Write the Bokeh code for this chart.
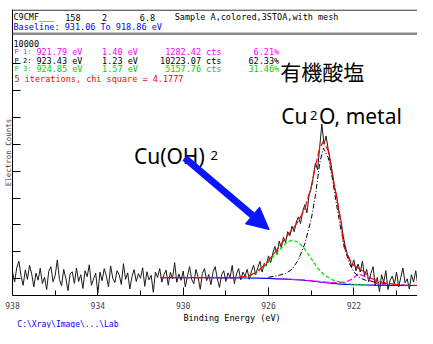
import math
from bokeh.plotting import figure
from bokeh.layouts import column
from bokeh.models import (Range1d, FixedTicker, Label, Arrow, NormalHead,
                          BoxAnnotation, Span)
from bokeh.embed import file_html
from bokeh.resources import INLINE

# ---------------- data ----------------
# measured spectrum, 0.1 eV steps from 938.0 eV down to 918.3 eV
counts = [
    1250, 880, 1420, 1650, 1100, 760, 1330, 980, 1500, 1180,
    700, 1210, 950, 1390, 820, 1060, 600, 1280, 1450, 890,
    1120, 1700, 980, 740, 1350, 1020, 560, 1180, 1260, 830,
    1400, 900, 1150, 640, 1300, 1080, 1520, 760, 1000, 1210,
    450, 1250, 930, 1380, 1100, 700, 1480, 1020, 860, 1300,
    1150, 790, 1560, 980, 1220, 620, 1080, 1340, 900, 1190,
    1020, 1410, 720, 1260, 960, 1130, 500, 1250, 1050, 1380,
    880, 1150, 1320, 760, 1240, 1000, 1600, 870, 1180, 940,
    1290, 700, 1100, 1450, 980, 820, 1350, 1050, 610, 1200,
    1380, 930, 1160, 780, 1250, 1450, 1000, 680, 1150, 1300,
    900, 1220, 1060, 1500, 820, 1180, 1380, 960, 1250, 1100,
    1350, 980, 1280, 1500, 1150, 1420, 1650, 1250, 1580, 1480,
    1850, 1600, 1950, 2200, 1900, 2400, 2150, 2550, 2350, 2750,
    2600, 2950, 2750, 3100, 3300, 3050, 3500, 3750, 3450, 4100,
    4350, 4800, 5300, 5050, 5900, 6750, 6000, 6300, 5800, 5400,
    4900, 4400, 4050, 3500, 3150, 2600, 2200, 1900, 1750, 1450,
    1700, 1300, 1550, 1250, 1650, 1100, 1350, 900, 1200, 1450,
    750, 1050, 520, 1150, 880, 1300, 600, 950, 1100, 800,
    1250, 700, 1050, 1400, 850, 1000, 620, 1150, 880, 1300,
    760, 1050, 900, 1350, 700, 1100, 950, 1200,
]
energies = [round(938.0 - 0.1 * i, 1) for i in range(len(counts))]

# Shirley-type background
bg_ev = [931.06, 930.0, 929.0, 928.0, 927.0, 926.5, 926.0, 925.5, 925.0, 924.5,
         924.0, 923.6, 923.2, 922.8, 922.4, 922.0, 921.5, 921.0, 920.0, 919.0, 918.86]
bg_ct = [1040, 1040, 1038, 1035, 1030, 1025, 1015, 1000, 980, 955,
         920, 880, 845, 815, 795, 780, 770, 762, 755, 750, 750]

# total fit envelope
env_ev = [931.06, 929.0, 928.0, 927.5, 927.0, 926.6, 926.2, 925.8, 925.4, 925.1,
          924.85, 924.6, 924.3, 924.0, 923.8, 923.6, 923.43, 923.2, 923.0, 922.8,
          922.6, 922.47, 922.2, 922.0, 921.8, 921.5, 921.2, 920.9, 920.5, 920.0,
          919.5, 918.86]
env_ct = [1040, 1040, 1040, 1045, 1090, 1230, 1500, 1880, 2300, 2620,
          2850, 3150, 3600, 4400, 5200, 5850, 6110, 5750, 4800, 4000,
          3100, 2205, 1700, 1500, 1400, 1250, 1020, 930, 840, 790,
          760, 750]

# component P2 (Cu2O / metal), 923.43 eV
p2_ev = [926.0, 925.6, 925.2, 924.9, 924.6, 924.3, 924.0, 923.8, 923.6, 923.43,
         923.2, 923.0, 922.8, 922.6, 922.4, 922.2, 922.0, 921.7, 921.4, 921.0, 920.5]
p2_ct = [1060, 1110, 1200, 1350, 1700, 2300, 3200, 4100, 5300, 5850,
         5500, 4700, 3700, 2800, 2050, 1550, 1250, 1030, 930, 880, 820]

# component P3 (Cu(OH)2), 924.85 eV
p3_ev = [927.5, 927.0, 926.6, 926.2, 925.8, 925.4, 925.1, 924.85, 924.6, 924.3,
         924.0, 923.7, 923.4, 923.0, 922.6, 922.2, 921.8, 921.4]
p3_ct = [1035, 1070, 1200, 1450, 1800, 2150, 2380, 2430, 2350, 2100,
         1750, 1400, 1150, 960, 860, 810, 785, 775]

# component P1, 921.79 eV
p1_ev = [925.7, 925.0, 924.4, 923.8, 923.2, 922.8, 922.4, 922.1, 921.8, 921.5,
         921.2, 920.9, 920.5]
p1_ct = [1000, 985, 960, 915, 870, 860, 880, 980, 1180, 1100,
         920, 820, 775]

x_major = [938, 934, 930, 926, 922, 918]
x_minor = [936, 932, 928, 924, 920]
y_ticks = [1000, 2000, 3000, 4000, 5000, 6000, 7000, 8000, 9000]

fit_rows = [
    ("P 1:", "921.79 eV", "1.40 eV", "1282.42 cts", "6.21%", "#ff00ff"),
    ("P 2:", "923.43 eV", "1.23 eV", "10223.07 cts", "62.33%", "#000000"),
    ("P 3:", "924.85 eV", "1.57 eV", "5157.76 cts", "31.46%", "#00d000"),
]

# ---------------- layout helpers (reference pixel -> data) ----------------
def X(px):
    return 938.0 - (px - 10) / 21.44

def Y(py):
    return (310.4 - py) * 36.5

W, H_MAIN, H_FOOT = 417, 311, 17
MONO = "DejaVu Sans Mono"

p = figure(width=W, height=H_MAIN, output_backend="svg", toolbar_location=None,
           x_range=Range1d(X(10), X(417)), y_range=Range1d(Y(300), Y(9)),
           min_border_left=0, min_border_right=0, min_border_top=9,
           min_border_bottom=0)
p.background_fill_color = "white"
p.border_fill_color = "white"
p.outline_line_color = None
p.xgrid.visible = False
p.ygrid.visible = False

# axes
xa = p.xaxis[0]
xa.ticker = FixedTicker(ticks=x_major, minor_ticks=x_minor)
xa.major_tick_in = 8
xa.major_tick_out = 0
xa.minor_tick_in = 5
xa.minor_tick_out = 0
xa.axis_line_color = "black"
xa.major_tick_line_color = "black"
xa.minor_tick_line_color = "black"
xa.major_label_text_font = MONO
xa.major_label_text_font_size = "8px"
xa.major_label_standoff = 6

ya = p.yaxis[0]
ya.ticker = FixedTicker(ticks=y_ticks)
ya.major_tick_in = 8
ya.major_tick_out = 0
ya.minor_tick_line_color = None
ya.major_label_overrides = {t: "" for t in y_ticks}
ya.major_label_standoff = 0
ya.axis_line_color = "black"
ya.axis_label = "Electron Counts"
ya.axis_label_text_font = MONO
ya.axis_label_text_font_size = "7.5px"
ya.axis_label_text_font_style = "normal"
ya.axis_label_standoff = 0

# header decorations
p.add_layout(Span(location=Y(9.6), dimension="width", line_color="black", line_width=1))
p.add_layout(BoxAnnotation(top=Y(32.5), bottom=Y(35), fill_color="#8a8a8a", fill_alpha=1,
                           line_color=None))

# curves
p.line(energies, counts, line_color="#1a1a1a", line_width=1)
p.line(bg_ev, bg_ct, line_color="#0000ff", line_width=1.2)
p.line(p1_ev, p1_ct, line_color="#ff00ff", line_width=1.2, line_dash="6 2")
p.line(p3_ev, p3_ct, line_color="#00e000", line_width=1.2, line_dash="4 2")
p.line(p2_ev, p2_ct, line_color="#000000", line_width=1, line_dash="5 2 1 2")
p.line(env_ev, env_ct, line_color="#ff0000", line_width=1.2, line_dash="9 2")

# text helpers
def lab(text, px, py, size="8.5px", color="black", font=MONO,
        align="left", baseline="middle", angle=0):
    p.add_layout(Label(x=X(px), y=Y(py), text=text, text_font=font,
                       text_font_size=size, text_color=color, text_align=align,
                       text_baseline=baseline, angle=angle))

# header
lab("C9CMF___", 11, 17)
lab("158", 63, 17)
lab("2", 100, 17)
lab("6.8", 138, 17)
lab("Sample A,colored,3STOA,with mesh", 173, 17)
lab("Baseline: 931.06 To 918.86 eV", 11, 27, color="#0000ff")
lab("10000", 11, 44)

rows_y = [52, 61, 70]
for (a, b, c, d, e, col), ry in zip(fit_rows, rows_y):
    lab(a, 12, ry, size="7px", color=col)
    lab(b, 34, ry, color=col)
    lab(c, 100, ry, color=col)
    lab(d, 220, ry, color=col, align="right")
    lab(e, 278, ry, color=col, align="right")
lab("5 iterations, chi square = 4.1777", 12, 80, color="#ff0000")

# annotations
lab("有機酸塩", 279, 72, size="21px", font="Noto Sans CJK JP")
lab("Cu", 280, 117, size="21px", font="Noto Sans", baseline="alphabetic")
lab("2", 309, 117, size="13px", font="Noto Sans", baseline="alphabetic")
lab("O, metal", 318, 117, size="21px", font="Noto Sans", baseline="alphabetic")
lab("Cu(OH)", 132, 158, size="21px", font="Noto Sans", baseline="alphabetic")
lab("2", 209, 158, size="13px", font="Noto Sans", baseline="alphabetic")

arrow_start = (X(183), Y(160))
arrow_end = (X(268), Y(233))
p.add_layout(Arrow(end=NormalHead(size=22, fill_color="#0a14ff", line_color="#0a14ff"),
                   x_start=arrow_start[0], y_start=arrow_start[1],
                   x_end=arrow_end[0], y_end=arrow_end[1],
                   line_color="#0a14ff", line_width=7))

# footer strip: x-axis title and file path
foot = figure(width=W, height=H_FOOT, output_backend="svg", toolbar_location=None,
              x_range=Range1d(0, W), y_range=Range1d(H_FOOT, 0),
              min_border=0)
foot.axis.visible = False
foot.grid.visible = False
foot.outline_line_color = None
foot.background_fill_color = "white"
foot.border_fill_color = "white"
foot.add_layout(Label(x=226, y=6, text="Binding Energy (eV)", text_font=MONO,
                      text_font_size="8.5px", text_color="black", text_align="center",
                      text_baseline="middle"))
foot.add_layout(Label(x=5, y=12.5, text="C:\\Xray\\Image\\...\\Lab", text_font=MONO,
                      text_font_size="8px", text_color="#0000ff", text_baseline="middle"))

layout = column(p, foot, spacing=0)
open("out.html", "w").write(file_html(layout, INLINE))
